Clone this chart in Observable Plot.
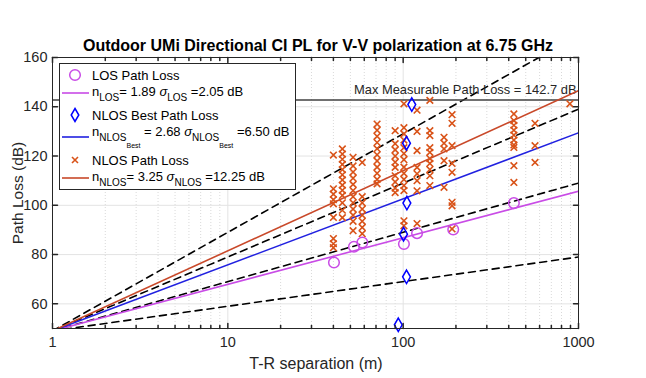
<!DOCTYPE html>
<html>
<head>
<meta charset="utf-8">
<script src="https://cdn.jsdelivr.net/npm/d3@7"></script>
<script src="https://cdn.jsdelivr.net/npm/@observablehq/plot@0.6"></script>
<style>
  body { margin: 0; background: #fff; font-family: "Liberation Sans", Arial, sans-serif; color: #000; }
  #wrap { position: relative; width: 646px; height: 378px; overflow: hidden; }
  #chart { position: absolute; left: 0; top: 0; }
  .abs { position: absolute; white-space: nowrap; }
  #title { left: 0; width: 636px; top: 37px; text-align: center; font-weight: bold; font-size: 16px; }
  #xlabel { left: 0; width: 632px; top: 355px; text-align: center; font-size: 16px; color: #262626; }
  #ylabel { left: 18px; top: 193px; font-size: 15.5px; color: #262626; transform: translate(-50%, -50%) rotate(-90deg); }
  #legend { left: 59px; top: 63px; width: 237px; height: 127px; background: #fff; border: 1px solid #262626; box-sizing: border-box; }
  .row { position: absolute; left: 0; height: 20px; width: 236px; }
  .row svg { position: absolute; left: 0; top: 0; }
  .row .t { position: absolute; left: 32px; font-size: 13px; line-height: 13px; color: #000; }
  .s1 { font-size: 10px; position: relative; top: 5px; }
  .s2 { font-size: 7px; position: relative; top: 7px; }
  .sig { font-style: italic; }
</style>
</head>
<body>
<div id="wrap">
  <div id="chart"></div>
  <div id="title" class="abs">Outdoor UMi Directional CI PL for V-V polarization at 6.75 GHz</div>
  <div id="xlabel" class="abs">T-R separation (m)</div>
  <div id="ylabel" class="abs">Path Loss (dB)</div>
  <div id="legend" class="abs"></div>
</div>
<script>
// ---------- data ----------
const xTickVals = [1, 10, 100, 1000];
const yTickVals = [60, 80, 100, 120, 140, 160];
const xDomain = [1, 1000];
const yDomain = [50, 160];

const fsplAt1m = 49.03;          // free-space PL at 1 m, 6.75 GHz (dB)
const maxMeasurablePL = 142.7;   // dB
const refExponents = [1, 2, 3, 4];

const fitNames = ["LOS", "NLOS Best", "NLOS"];
const fitN = [1.89, 2.68, 3.25];
const fitSigma = [2.05, 6.50, 12.25];

// LOS measured points
const losDist = [40.3, 52.4, 58.5, 101, 120, 193, 428];
const losPL   = [76.8, 83.2, 84.9, 84.3, 88.7, 90.2, 100.9];

// NLOS best points
const bestDist = [112, 104.5, 105, 100.5, 104.5, 93.8];
const bestPL   = [140.9, 125.2, 100.9, 88.3, 71.0, 51.5];

// NLOS points, grouped by T-R separation
const nlosDist = [40, 45, 51.8, 58.4, 71, 90, 101, 120, 142, 171, 190, 428, 565, 893];
const nlosPL = [
  [120.4, 106.7, 104.5, 102.3, 100.6, 95.1, 86.5, 84.4, 82.8],
  [122.9, 120.8, 118.7, 116.6, 114.5, 112.4, 110.3, 108.2, 106.1, 104.0, 101.0, 98.0, 95.0],
  [119.5, 116.0, 113.5, 111.0, 108.5, 106.0, 103.5, 101.0, 98.5, 96.0, 93.5, 89.7],
  [117.4, 103.5, 101.0, 98.5, 96.0, 93.5, 91.0, 88.5],
  [133.0, 130.5, 128.0, 125.5, 123.0, 120.5, 118.0, 115.5, 113.0, 110.5, 108.7],
  [130.3, 125.0, 122.5, 120.0, 117.5, 115.4, 112.0, 109.5, 107.0, 105.2],
  [141.2, 131.5, 129.0, 126.5, 123.4, 121.0, 118.5, 115.5, 113.0, 110.5, 108.0, 106.0, 93.7, 91.7],
  [138.6, 130.0, 122.2, 115.4, 112.8, 110.0, 105.9, 92.6],
  [142.6, 130.3, 128.3, 123.4, 121.5, 119.0, 117.0, 114.5, 112.0, 108.0],
  [127.6, 125.2, 122.9, 118.1, 107.3],
  [136.8, 133.3, 124.2, 117.0, 113.4, 101.2, 99.8, 90.4],
  [137.1, 134.4, 132.5, 130.5, 128.5, 126.5, 124.5, 123.5, 116.1, 109.3],
  [133.3, 124.2, 117.4],
  [141.2]
];

// ---------- styles ----------
const colLOS = "#C94CE6", colBest = "#0000FF", colBestLine = "#2121E0", colNLOS = "#D95319", colNLOSLine = "#C9492A";
const fitColors = [colLOS, colBestLine, colNLOSLine];
const ink = "#262626";

// ---------- derived tables ----------
const losData = losDist.map((d, i) => ({d, pl: losPL[i]}));
const bestData = bestDist.map((d, i) => ({d, pl: bestPL[i]}));
const nlosData = nlosDist.flatMap((d, i) => nlosPL[i].map(pl => ({d, pl})));
const ciLine = (n, key) => xDomain.map(d => ({d, pl: fsplAt1m + 10 * n * Math.log10(d), key}));
const refLines = refExponents.flatMap(n => ciLine(n, "n" + n));
const xMinor = xTickVals.slice(0, -1).flatMap(b => d3.range(2, 10).map(k => k * b));
const xMajorGrid = xTickVals.slice(1, -1);
const yGrid = yTickVals.slice(0, -1);

const tickShape = {draw(ctx, l) { ctx.moveTo(0, 0); ctx.lineTo(0, -l); }};

const fitMarks = fitN.map((n, i) =>
  Plot.line(ciLine(n, fitNames[i]), {x: "d", y: "pl", stroke: fitColors[i], strokeWidth: 1.6, clip: true}));

const chart = Plot.plot({
  width: 646, height: 378,
  marginLeft: 52, marginRight: 68, marginTop: 57, marginBottom: 50,
  x: {type: "log", domain: xDomain, label: null},
  y: {domain: yDomain, label: null},
  style: {fontFamily: "Liberation Sans, Arial, sans-serif", fontSize: "14px", color: ink, background: "white"},
  marks: [
    Plot.ruleX(xMinor, {stroke: "#cfcfcf", strokeWidth: 0.8, strokeDasharray: "1,2"}),
    Plot.ruleX(xMajorGrid, {stroke: "#e3e3e3", strokeWidth: 1}),
    Plot.ruleY(yGrid, {stroke: "#e3e3e3", strokeWidth: 1}),
    Plot.line(refLines, {x: "d", y: "pl", z: "key", stroke: "black", strokeWidth: 1.6, strokeDasharray: "7,5", clip: true}),
    Plot.ruleY([maxMeasurablePL], {stroke: "#404040", strokeWidth: 1.5}),
    Plot.text([maxMeasurablePL], {x: () => xDomain[1], y: d => d, text: d => `Max Measurable Path Loss = ${d} dB`, textAnchor: "end", dx: -2, dy: -10, fontSize: 12.9, fill: ink}),
    ...fitMarks,
    Plot.dot(nlosData, {x: "d", y: "pl", symbol: "times", r: 3.1, stroke: colNLOS, strokeWidth: 1.6}),
    Plot.dot(losData, {x: "d", y: "pl", symbol: "circle", r: 5.3, stroke: colLOS, strokeWidth: 1.5}),
    Plot.dot(bestData, {x: "d", y: "pl", symbol: "diamond", r: 4.1, stroke: colBest, strokeWidth: 1.5}),
    Plot.frame({stroke: ink, strokeWidth: 1}),
    Plot.vector(xTickVals, {x: d => d, y: () => yDomain[0], length: 5, rotate: 0, anchor: "start", shape: tickShape, stroke: ink}),
    Plot.vector(xTickVals, {x: d => d, y: () => yDomain[1], length: 5, rotate: 180, anchor: "start", shape: tickShape, stroke: ink}),
    Plot.vector(xMinor, {x: d => d, y: () => yDomain[0], length: 3, rotate: 0, anchor: "start", shape: tickShape, stroke: ink}),
    Plot.vector(xMinor, {x: d => d, y: () => yDomain[1], length: 3, rotate: 180, anchor: "start", shape: tickShape, stroke: ink}),
    Plot.vector(yTickVals, {x: () => xDomain[0], y: d => d, length: 5, rotate: 90, anchor: "start", shape: tickShape, stroke: ink}),
    Plot.vector(yTickVals, {x: () => xDomain[1], y: d => d, length: 5, rotate: -90, anchor: "start", shape: tickShape, stroke: ink}),
    Plot.axisX(xTickVals, {tickSize: 0, tickPadding: 8, tickFormat: d => String(d), fontSize: 14.5, fill: ink}),
    Plot.axisY(yTickVals, {tickSize: 0, tickPadding: 5, tickFormat: d => String(d), fontSize: 14.5, fill: ink})
  ]
});
chart.setAttribute("color", ink);
document.getElementById("chart").appendChild(chart);

// ---------- legend ----------
const leg = document.getElementById("legend");
const fmt = v => v.toFixed(2);
const rows = [
  {top: 1, icon: `<circle cx="15" cy="10" r="5.3" fill="none" stroke="${colLOS}" stroke-width="1.5"/>`, html: "LOS Path Loss", tt: 4},
  {top: 19, icon: `<line x1="2" x2="29" y1="10" y2="10" stroke="${fitColors[0]}" stroke-width="1.6"/>`,
    html: `n<span class="s1">LOS</span>= ${fitN[0]} <span class="sig">σ</span><span class="s1">LOS</span> =${fmt(fitSigma[0])} dB`, tt: 1.5},
  {top: 41, icon: `<path d="M15,3.5 L18.8,10 L15,16.5 L11.2,10 Z" fill="none" stroke="${colBest}" stroke-width="1.5"/>`, html: "NLOS Best Path Loss", tt: 3.5},
  {top: 62, icon: `<line x1="2" x2="29" y1="11" y2="11" stroke="${fitColors[1]}" stroke-width="1.6"/>`,
    html: `n<span class="s1">NLOS<span class="s2">Best</span></span> = ${fitN[1]} <span class="sig">σ</span><span class="s1">NLOS<span class="s2">Best</span></span> =${fmt(fitSigma[1])} dB`, tt: -1.5},
  {top: 86, icon: `<path d="M12,7 L18,13 M18,7 L12,13" fill="none" stroke="${colNLOS}" stroke-width="1.6"/>`, html: "NLOS Path Loss", tt: 3.5},
  {top: 104, icon: `<line x1="2" x2="29" y1="10" y2="10" stroke="${fitColors[2]}" stroke-width="1.6"/>`,
    html: `n<span class="s1">NLOS</span>= ${fitN[2]} <span class="sig">σ</span><span class="s1">NLOS</span> =${fmt(fitSigma[2])} dB`, tt: 1.5}
];
for (const r of rows) {
  const div = document.createElement("div");
  div.className = "row";
  div.style.top = r.top + "px";
  div.innerHTML = `<svg width="32" height="20">${r.icon}</svg><div class="t" style="top:${r.tt}px">${r.html}</div>`;
  leg.appendChild(div);
}
</script>
</body>
</html>
